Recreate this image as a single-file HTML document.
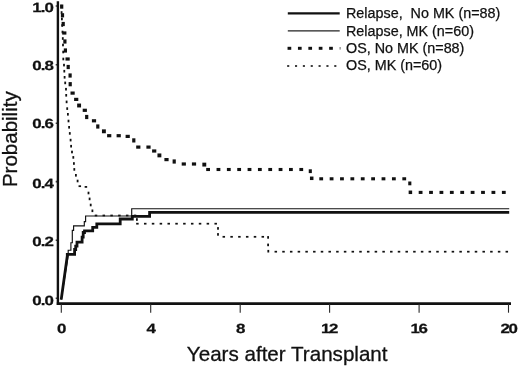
<!DOCTYPE html>
<html><head><meta charset="utf-8">
<style>
html,body{margin:0;padding:0;background:#fff;}
body{width:520px;height:367px;overflow:hidden;}
svg{display:block;filter:grayscale(1);}
text{font-family:"Liberation Sans",sans-serif;fill:#111;}
.tk text{font-family:"Liberation Sans",sans-serif;font-weight:bold;font-size:13.3px;letter-spacing:-0.7px;text-rendering:geometricPrecision;stroke:#111;stroke-width:0.25px;}
.tkx text{letter-spacing:-1.1px;}
.lg{font-size:14.35px;}
.lg text{stroke:#111;stroke-width:0.25px;}
.ttl{font-size:20.6px;stroke:#111;stroke-width:0.3px;}
</style></head><body>
<svg width="520" height="367" viewBox="0 0 520 367">
<rect width="520" height="367" fill="#fff"/>
<!-- axes -->
<path d="M57.9 1.2 V304.9" stroke="#111" stroke-width="2.4" fill="none"/>
<path d="M56.8 303.55 H511" stroke="#111" stroke-width="2.7" fill="none"/>
<!-- x ticks -->
<g stroke="#2a2a2a" stroke-width="1.1">
<path d="M61.3 304 V312.7"/><path d="M150.7 304 V312.7"/><path d="M240.2 304 V312.7"/><path d="M329.6 304 V312.7"/><path d="M419.1 304 V312.7"/><path d="M508.5 304 V312.7"/>
</g>
<!-- y ticks -->
<g stroke="#333" stroke-width="1.6">
<path d="M55.7 6 H57"/><path d="M55.7 64.75 H57"/><path d="M55.7 123.2 H57"/><path d="M55.7 181.6 H57"/><path d="M55.7 240.2 H57"/><path d="M55.7 298.3 H57"/>
</g>
<!-- y labels -->
<g class="tk" text-anchor="end">
<text transform="translate(53.0 12.3) scale(1.27 1)">1.0</text><text transform="translate(53.0 70.3) scale(1.27 1)">0.8</text><text transform="translate(53.0 128.3) scale(1.27 1)">0.6</text><text transform="translate(53.0 187.5) scale(1.27 1)">0.4</text><text transform="translate(53.0 245.9) scale(1.27 1)">0.2</text><text transform="translate(53.0 304.5) scale(1.27 1)">0.0</text>
</g>
<!-- x labels -->
<g class="tk tkx" text-anchor="middle">
<text transform="translate(61.0 333) scale(1.27 1)">0</text><text transform="translate(150.4 333) scale(1.27 1)">4</text><text transform="translate(239.9 333) scale(1.27 1)">8</text><text transform="translate(328.9 333) scale(1.27 1)">12</text><text transform="translate(418.5 333) scale(1.27 1)">16</text><text transform="translate(508.5 333) scale(1.27 1)">20</text>
</g>
<text class="ttl" x="287.2" y="360.6" text-anchor="middle">Years after Transplant</text>
<text class="ttl" style="font-size:20.5px" transform="translate(16.5 139.2) rotate(-90)" text-anchor="middle">Probability</text>
<!-- OS, No MK : thick dotted -->
<g fill="#111"><rect x="60.10" y="4.50" width="3.2" height="4.2"/><rect x="60.90" y="13.20" width="3.2" height="4.2"/><rect x="61.60" y="21.90" width="3.2" height="4.2"/><rect x="62.20" y="31.40" width="4.2" height="3.2"/><rect x="63.30" y="39.40" width="3.2" height="4.2"/><rect x="63.80" y="48.40" width="3.2" height="4.2"/><rect x="65.50" y="57.40" width="4.2" height="3.2"/><rect x="66.60" y="64.90" width="3.2" height="4.2"/><rect x="68.50" y="73.40" width="3.2" height="4.2"/><rect x="68.60" y="82.10" width="3.2" height="4.2"/><rect x="70.50" y="91.50" width="4.2" height="3.2"/><rect x="74.10" y="97.80" width="4.2" height="3.2"/><rect x="77.15" y="103.55" width="3.9" height="3.9"/><rect x="82.70" y="108.70" width="4.2" height="3.2"/><rect x="85.10" y="114.90" width="3.2" height="4.2"/><rect x="91.90" y="119.20" width="4.2" height="3.2"/><rect x="96.20" y="124.40" width="3.2" height="4.2"/><rect x="101.95" y="129.35" width="3.9" height="3.9"/><rect x="107.10" y="134.10" width="4.2" height="3.2"/><rect x="116.60" y="134.10" width="4.2" height="3.2"/><rect x="125.60" y="134.80" width="4.2" height="3.2"/><rect x="132.20" y="138.30" width="3.2" height="4.2"/><rect x="136.20" y="145.50" width="4.2" height="3.2"/><rect x="146.40" y="145.50" width="4.2" height="3.2"/><rect x="152.10" y="149.40" width="4.2" height="3.2"/><rect x="157.45" y="153.45" width="3.9" height="3.9"/><rect x="164.40" y="158.00" width="4.2" height="3.2"/><rect x="172.60" y="159.40" width="3.2" height="4.2"/><rect x="181.70" y="162.40" width="4.2" height="3.2"/><rect x="191.90" y="162.40" width="4.2" height="3.2"/><rect x="202.35" y="162.65" width="3.9" height="3.9"/><rect x="206.20" y="167.95" width="3.8" height="3.1"/><rect x="216.55" y="167.95" width="3.8" height="3.1"/><rect x="226.90" y="167.95" width="3.8" height="3.1"/><rect x="237.25" y="167.95" width="3.8" height="3.1"/><rect x="247.60" y="167.95" width="3.8" height="3.1"/><rect x="257.95" y="167.95" width="3.8" height="3.1"/><rect x="268.30" y="167.95" width="3.8" height="3.1"/><rect x="278.65" y="167.95" width="3.8" height="3.1"/><rect x="289.00" y="167.95" width="3.8" height="3.1"/><rect x="299.35" y="167.95" width="3.8" height="3.1"/><rect x="308.75" y="169.30" width="3.1" height="3.8"/><rect x="309.95" y="176.55" width="3.5" height="3.5"/><rect x="319.30" y="177.25" width="3.8" height="3.1"/><rect x="329.68" y="177.25" width="3.8" height="3.1"/><rect x="340.06" y="177.25" width="3.8" height="3.1"/><rect x="350.44" y="177.25" width="3.8" height="3.1"/><rect x="360.82" y="177.25" width="3.8" height="3.1"/><rect x="371.20" y="177.25" width="3.8" height="3.1"/><rect x="381.58" y="177.25" width="3.8" height="3.1"/><rect x="391.96" y="177.25" width="3.8" height="3.1"/><rect x="402.34" y="177.25" width="3.8" height="3.1"/><rect x="408.25" y="181.50" width="3.1" height="3.8"/><rect x="408.65" y="190.55" width="3.5" height="3.5"/><rect x="418.70" y="190.85" width="3.8" height="3.1"/><rect x="429.10" y="190.85" width="3.8" height="3.1"/><rect x="439.50" y="190.85" width="3.8" height="3.1"/><rect x="449.90" y="190.85" width="3.8" height="3.1"/><rect x="460.30" y="190.85" width="3.8" height="3.1"/><rect x="470.70" y="190.85" width="3.8" height="3.1"/><rect x="481.10" y="190.85" width="3.8" height="3.1"/><rect x="491.50" y="190.85" width="3.8" height="3.1"/><rect x="501.90" y="190.85" width="3.8" height="3.1"/></g>
<!-- OS, MK : thin dotted -->
<g fill="#111"><rect x="60.50" y="4.90" width="1.8" height="2.6"/><rect x="60.70" y="11.20" width="1.8" height="2.6"/><rect x="61.00" y="17.70" width="1.8" height="2.6"/><rect x="61.30" y="24.20" width="1.8" height="2.6"/><rect x="61.60" y="30.70" width="1.8" height="2.6"/><rect x="61.90" y="37.20" width="1.8" height="2.6"/><rect x="62.10" y="43.70" width="1.8" height="2.6"/><rect x="62.30" y="50.70" width="1.8" height="2.6"/><rect x="62.40" y="57.70" width="1.8" height="2.6"/><rect x="63.10" y="63.80" width="1.8" height="2.6"/><rect x="63.40" y="69.90" width="1.8" height="2.6"/><rect x="63.70" y="76.00" width="1.8" height="2.6"/><rect x="64.30" y="81.60" width="1.8" height="2.6"/><rect x="65.10" y="87.90" width="1.8" height="2.6"/><rect x="65.30" y="94.00" width="1.8" height="2.6"/><rect x="65.70" y="100.60" width="1.8" height="2.6"/><rect x="66.30" y="107.30" width="1.8" height="2.6"/><rect x="67.00" y="113.00" width="1.8" height="2.6"/><rect x="67.60" y="119.70" width="1.8" height="2.6"/><rect x="68.20" y="126.00" width="1.8" height="2.6"/><rect x="68.90" y="132.10" width="1.8" height="2.6"/><rect x="69.70" y="138.80" width="1.8" height="2.6"/><rect x="70.20" y="144.90" width="1.8" height="2.6"/><rect x="71.10" y="150.70" width="1.8" height="2.6"/><rect x="72.40" y="156.10" width="1.8" height="2.6"/><rect x="73.00" y="162.20" width="1.8" height="2.6"/><rect x="73.40" y="168.10" width="1.8" height="2.6"/><rect x="75.00" y="174.00" width="1.8" height="2.6"/><rect x="76.70" y="179.70" width="1.8" height="2.6"/><rect x="78.55" y="185.32" width="2.5" height="1.75"/><rect x="84.65" y="186.03" width="2.5" height="1.75"/><rect x="87.60" y="191.70" width="1.8" height="2.6"/><rect x="88.70" y="197.60" width="1.8" height="2.6"/><rect x="89.80" y="203.70" width="1.8" height="2.6"/><rect x="91.50" y="209.50" width="1.8" height="2.6"/><rect x="94.75" y="214.62" width="2.5" height="1.75"/><rect x="102.55" y="214.62" width="2.5" height="1.75"/><rect x="110.35" y="214.62" width="2.5" height="1.75"/><rect x="118.15" y="214.62" width="2.5" height="1.75"/><rect x="125.95" y="214.62" width="2.5" height="1.75"/><rect x="133.75" y="214.62" width="2.5" height="1.75"/><rect x="136.00" y="218.20" width="1.8" height="2.6"/><rect x="136.15" y="222.82" width="2.5" height="1.75"/><rect x="143.98" y="222.82" width="2.5" height="1.75"/><rect x="151.81" y="222.82" width="2.5" height="1.75"/><rect x="159.64" y="222.82" width="2.5" height="1.75"/><rect x="167.47" y="222.82" width="2.5" height="1.75"/><rect x="175.30" y="222.82" width="2.5" height="1.75"/><rect x="183.13" y="222.82" width="2.5" height="1.75"/><rect x="190.96" y="222.82" width="2.5" height="1.75"/><rect x="198.79" y="222.82" width="2.5" height="1.75"/><rect x="206.62" y="222.82" width="2.5" height="1.75"/><rect x="214.45" y="222.82" width="2.5" height="1.75"/><rect x="217.10" y="227.10" width="1.8" height="2.6"/><rect x="217.10" y="233.10" width="1.8" height="2.6"/><rect x="222.55" y="235.93" width="2.5" height="1.75"/><rect x="230.35" y="235.93" width="2.5" height="1.75"/><rect x="238.15" y="235.93" width="2.5" height="1.75"/><rect x="245.95" y="235.93" width="2.5" height="1.75"/><rect x="253.75" y="235.93" width="2.5" height="1.75"/><rect x="261.55" y="235.93" width="2.5" height="1.75"/><rect x="267.20" y="236.10" width="1.8" height="2.6"/><rect x="267.20" y="243.60" width="1.8" height="2.6"/><rect x="267.40" y="249.90" width="1.8" height="2.6"/><rect x="274.55" y="250.82" width="2.5" height="1.75"/><rect x="282.25" y="250.82" width="2.5" height="1.75"/><rect x="289.95" y="250.82" width="2.5" height="1.75"/><rect x="297.65" y="250.82" width="2.5" height="1.75"/><rect x="305.35" y="250.82" width="2.5" height="1.75"/><rect x="313.05" y="250.82" width="2.5" height="1.75"/><rect x="320.75" y="250.82" width="2.5" height="1.75"/><rect x="328.45" y="250.82" width="2.5" height="1.75"/><rect x="336.15" y="250.82" width="2.5" height="1.75"/><rect x="343.85" y="250.82" width="2.5" height="1.75"/><rect x="351.55" y="250.82" width="2.5" height="1.75"/><rect x="359.25" y="250.82" width="2.5" height="1.75"/><rect x="366.95" y="250.82" width="2.5" height="1.75"/><rect x="374.65" y="250.82" width="2.5" height="1.75"/><rect x="382.35" y="250.82" width="2.5" height="1.75"/><rect x="390.05" y="250.82" width="2.5" height="1.75"/><rect x="397.75" y="250.82" width="2.5" height="1.75"/><rect x="405.45" y="250.82" width="2.5" height="1.75"/><rect x="413.15" y="250.82" width="2.5" height="1.75"/><rect x="420.85" y="250.82" width="2.5" height="1.75"/><rect x="428.55" y="250.82" width="2.5" height="1.75"/><rect x="436.25" y="250.82" width="2.5" height="1.75"/><rect x="443.95" y="250.82" width="2.5" height="1.75"/><rect x="451.65" y="250.82" width="2.5" height="1.75"/><rect x="459.35" y="250.82" width="2.5" height="1.75"/><rect x="467.05" y="250.82" width="2.5" height="1.75"/><rect x="474.75" y="250.82" width="2.5" height="1.75"/><rect x="482.45" y="250.82" width="2.5" height="1.75"/><rect x="490.15" y="250.82" width="2.5" height="1.75"/><rect x="497.85" y="250.82" width="2.5" height="1.75"/><rect x="505.55" y="250.82" width="2.5" height="1.75"/></g>
<!-- Relapse, MK : thin solid -->
<path fill="none" stroke="#111" stroke-width="1.15" d="M61.2 299.6 L67.5 260 L68.2 255 V250.2 H70.9 V242.7 H72.3 V230.4 H73.6 V225.9 H84.3 V221.6 H85.6 V216 H131.7 V208.7 H509.2"/>
<!-- Relapse, No MK : thick solid -->
<path fill="none" stroke="#111" stroke-width="2.8" stroke-linejoin="miter" d="M61.2 299.6 L67.3 256 V254.4 H74.6 V249.5 H75.7 V246.1 H77 V242.2 H82.1 V237.2 H83.2 V232.5 H84.5 V230.8 H92.7 V227.3 H96.8 V223.9 H120.2 V219 H132.3 V216.3 H149.6 V212.3 H509.2"/>
<!-- legend -->
<path d="M287.8 13.45 H339.7" stroke="#111" stroke-width="2.3"/>
<path d="M287.8 30.95 H339.7" stroke="#222" stroke-width="1.2"/>
<g fill="#111"><rect x="287.55" y="46.80" width="3.7" height="3.0"/><rect x="297.95" y="46.80" width="3.7" height="3.0"/><rect x="308.35" y="46.80" width="3.7" height="3.0"/><rect x="318.75" y="46.80" width="3.7" height="3.0"/><rect x="329.15" y="46.80" width="3.7" height="3.0"/><rect x="339.6" y="47" width="1" height="2.6" fill="#666"/></g>
<g fill="#111"><rect x="287.15" y="65.20" width="2.1" height="1.6"/><rect x="295.00" y="65.20" width="2.1" height="1.6"/><rect x="302.85" y="65.20" width="2.1" height="1.6"/><rect x="310.70" y="65.20" width="2.1" height="1.6"/><rect x="318.55" y="65.20" width="2.1" height="1.6"/><rect x="326.40" y="65.20" width="2.1" height="1.6"/><rect x="334.25" y="65.20" width="2.1" height="1.6"/></g>
<g class="lg">
<text x="346" y="18.4" xml:space="preserve">Relapse,  No MK (n=88)</text>
<text x="346" y="35.6">Relapse, MK (n=60)</text>
<text x="346" y="52.9">OS, No MK (n=88)</text>
<text x="346" y="70.2">OS, MK (n=60)</text>
</g>
</svg>
</body></html>
